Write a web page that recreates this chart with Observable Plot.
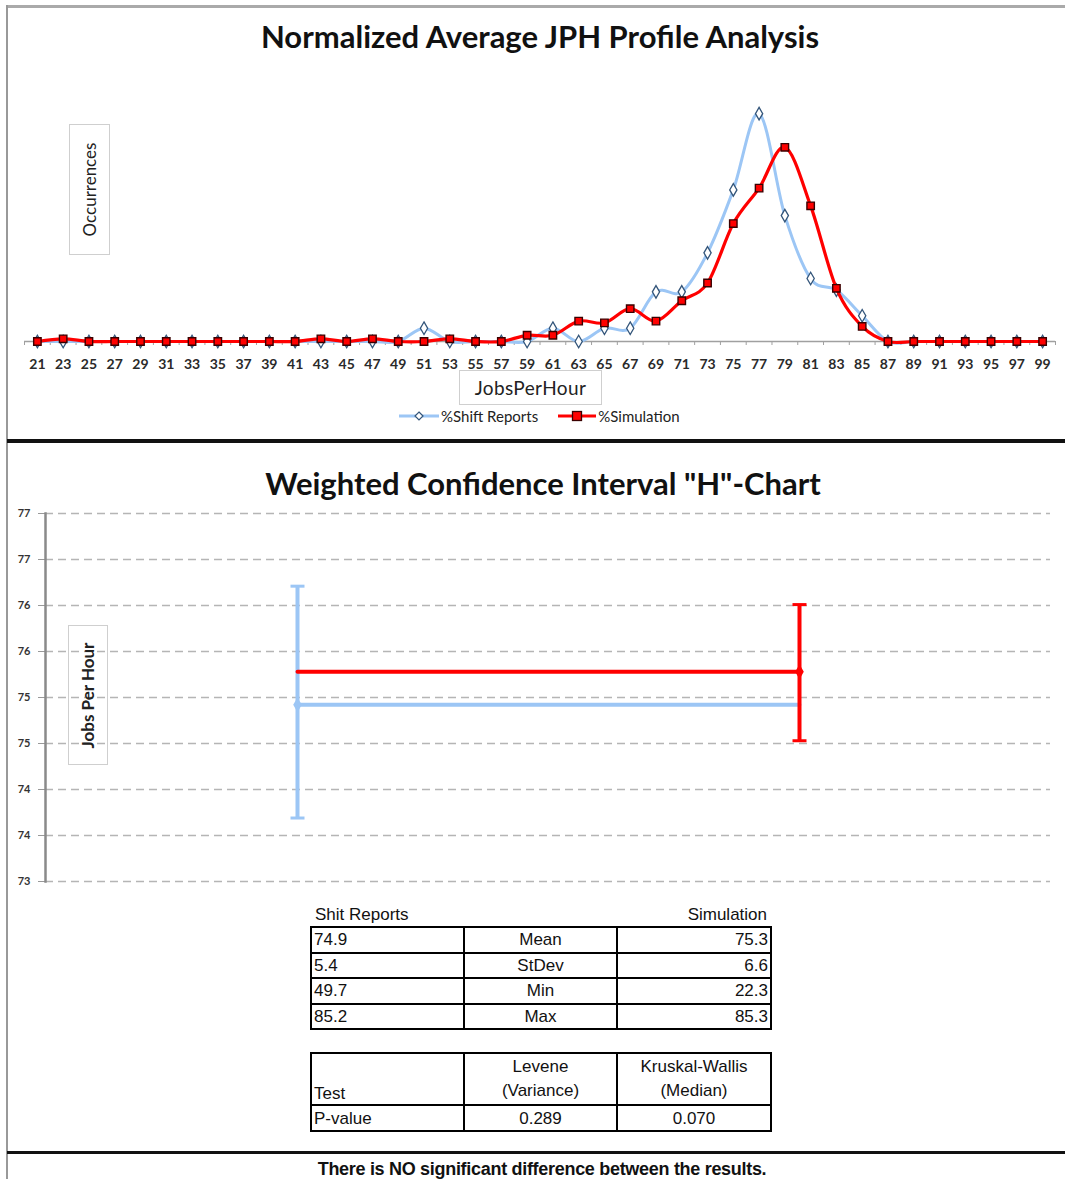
<!DOCTYPE html>
<html><head><meta charset="utf-8">
<script src="https://cdn.jsdelivr.net/npm/d3@7"></script>
<script src="https://cdn.jsdelivr.net/npm/@observablehq/plot@0.6"></script>
<style>
body{margin:0;background:#fff;}
#page{position:relative;width:1065px;height:1179px;overflow:hidden;font-family:Lato,"Liberation Sans",sans-serif;color:#111;background:#fff;}
.abs{position:absolute;}
.title{font-family:Lato,sans-serif;font-weight:700;font-size:31px;color:#111;text-align:center;white-space:nowrap;}
.vbox{position:absolute;border:1.5px solid #cfcfcf;box-sizing:border-box;display:flex;align-items:center;justify-content:center;}
.vbox span{transform:rotate(-90deg);white-space:nowrap;font-family:Lato,sans-serif;}
table.st{position:absolute;border-collapse:collapse;font-family:"Liberation Sans",Arial,sans-serif;font-size:17px;color:#111;table-layout:fixed;}
table.st td{border:2px solid #000;padding:0 2px;line-height:19px;overflow:hidden;white-space:nowrap;}
.hdr{position:absolute;font-family:"Liberation Sans",Arial,sans-serif;font-size:17px;color:#111;white-space:nowrap;}
.leg{position:absolute;display:flex;align-items:center;font-family:Lato,sans-serif;font-size:15px;color:#222;}
</style></head><body><div id="page"></div>
<script>
// ---------- data ----------
const jph = [21,23,25,27,29,31,33,35,37,39,41,43,45,47,49,51,53,55,57,59,61,63,65,67,69,71,73,75,77,79,81,83,85,87,89,91,93,95,97,99];
const shiftReports = [0,0,0,0,0,0,0,0,0,0,0,0,0,0,0,1.5,0,0,0,0,1.5,0,1.5,1.5,5.6,5.6,10.0,17.1,25.7,14.2,7.1,5.8,2.9,0,0,0,0,0,0,0];
const simulation   = [0,0.3,0,0,0,0,0,0,0,0,0,0.3,0,0.3,0,0,0.3,0,0,0.7,0.7,2.3,2.1,3.7,2.3,4.6,6.6,13.3,17.3,21.9,15.3,6.0,1.7,0,0,0,0,0,0,0];

const groups = ["Shift Reports", "Simulation"];
const ciMean = [74.92, 75.28];
const ciLow  = [73.69, 74.53];
const ciHigh = [76.21, 76.01];
const yTicksH = [73, 73.5, 74, 74.5, 75, 75.5, 76, 76.5, 77];

const statNames  = ["Mean", "StDev", "Min", "Max"];
const shiftStats = ["74.9", "5.4", "49.7", "85.2"];
const simStats   = ["75.3", "6.6", "22.3", "85.3"];
const testNames  = ["Levene<br>(Variance)", "Kruskal-Wallis<br>(Median)"];
const pValues    = ["0.289", "0.070"];

const BLUE = "#9CC6F5", RED = "#FF0000";
const page = document.getElementById("page");
function add(html){ page.insertAdjacentHTML("beforeend", html); }

// ---------- frame lines ----------
add(`<div class="abs" style="left:7px;top:5px;width:1058px;height:3px;background:#aaa"></div>`);
add(`<div class="abs" style="left:6px;top:5px;width:2px;height:1174px;background:#999"></div>`);
add(`<div class="abs" style="left:7px;top:439px;width:1058px;height:4px;background:#111"></div>`);
add(`<div class="abs" style="left:7px;top:1151px;width:1058px;height:3px;background:#111"></div>`);

// ---------- top chart ----------
const top1 = jph.map((x,i)=>({x, y: shiftReports[i]}));
const top2 = jph.map((x,i)=>({x, y: simulation[i]}));
const evenTicks = d3.range(20, 101, 2);
const chart1 = Plot.plot({
  width: 1065, height: 440,
  marginLeft: 24, marginRight: 10, marginTop: 75, marginBottom: 99,
  x: {type: "linear", domain: [20, 100], label: null},
  y: {domain: [0, 30], axis: null, label: null},
  style: {background: "transparent", overflow: "visible"},
  marks: [
    Plot.ruleY([0], {stroke: "#a0a0a0", strokeWidth: 1.5}),
    Plot.axisX(evenTicks, {tickSize: 4, tickFormat: () => "", stroke: "#a0a0a0", label: null}),
    Plot.axisX(jph, {tickSize: 0, tickPadding: 18, tickFormat: d => String(d), fontSize: 14, fontWeight: "bold", fill: "#2a2a2a", fontFamily: "Lato", label: null}),
    Plot.line(top1, {x: "x", y: "y", stroke: BLUE, strokeWidth: 3, curve: "cardinal"}),
    Plot.dot(top1, {x: "x", y: "y", symbol: "diamond", r: 3.8, fill: "white", stroke: "#33557a", strokeWidth: 1.3}),
    Plot.line(top2, {x: "x", y: "y", stroke: RED, strokeWidth: 3.2, curve: "cardinal"}),
    Plot.dot(top2, {x: "x", y: "y", symbol: "square", r: 4.2, fill: RED, stroke: "#3a0000", strokeWidth: 1.4})
  ]
});
chart1.style.position = "absolute"; chart1.style.left = "0px"; chart1.style.top = "0px";
page.appendChild(chart1);

add(`<div class="abs title" style="left:0;width:1080px;top:17px;">Normalized Average JPH Profile Analysis</div>`);
add(`<div class="vbox" style="left:69px;top:124px;width:41px;height:131px;"><span style="font-size:17px;color:#222">Occurrences</span></div>`);
add(`<div class="vbox" style="left:459px;top:370px;width:143px;height:35px;"><span style="transform:none;font-size:19px;letter-spacing:0.4px;color:#222">JobsPerHour</span></div>`);
// legend
add(`<div class="leg" style="left:399px;top:407px;height:18px;">
  <svg width="40" height="18"><line x1="0" y1="9" x2="40" y2="9" stroke="${BLUE}" stroke-width="3"/><path d="M20 5 L24 9 L20 13 L16 9 Z" fill="white" stroke="#33557a" stroke-width="1.2"/></svg>
  <span style="margin-left:2px">%Shift Reports</span>
  <svg width="38" height="18" style="margin-left:20px"><line x1="0" y1="9" x2="38" y2="9" stroke="${RED}" stroke-width="3.2"/><rect x="14.5" y="4.5" width="9" height="9" fill="${RED}" stroke="#3a0000" stroke-width="1.3"/></svg>
  <span style="margin-left:2px">%Simulation</span></div>`);

// ---------- bottom "H" chart ----------
const ci = groups.map((g,i)=>({g, mean: ciMean[i], lo: ciLow[i], hi: ciHigh[i]}));
const meanLine = (i) => groups.map(h => ({x: h, y: ciMean[i]}));
const caps = (i) => [{x: groups[i], y: ciLow[i]}, {x: groups[i], y: ciHigh[i]}];
const capSymbol = {draw(ctx, size){ const r = Math.sqrt(size / Math.PI); ctx.moveTo(-r, 0); ctx.lineTo(r, 0); }};
const chart2 = Plot.plot({
  width: 1065, height: 400,
  marginLeft: 45, marginRight: 15, marginTop: 13, marginBottom: 19,
  x: {type: "point", domain: groups, padding: 0.5, axis: null, label: null},
  y: {domain: [73, 77], axis: null, label: null},
  style: {background: "transparent", overflow: "visible"},
  marks: [
    Plot.gridY(yTicksH, {stroke: "#b5b5b5", strokeOpacity: 1, strokeWidth: 1.3, strokeDasharray: "8,5"}),
    Plot.axisY(yTicksH, {tickSize: 7, tickPadding: 8, tickFormat: d => String(Math.round(d)), fontSize: 11, fontWeight: "bold", fill: "#333", stroke: "#999", fontFamily: "Lato", label: null}),
    Plot.frame({anchor: "left", stroke: "#8a8a8a", strokeWidth: 2.5}),
    Plot.line(meanLine(0), {x: "x", y: "y", stroke: BLUE, strokeWidth: 4}),
    Plot.ruleX([ci[0]], {x: "g", y1: "lo", y2: "hi", stroke: BLUE, strokeWidth: 4}),
    Plot.dot(caps(0), {x: "x", y: "y", symbol: capSymbol, r: 7, stroke: BLUE, strokeWidth: 3}),
    Plot.dot([ci[0]], {x: "g", y: "mean", symbol: "diamond", r: 4.5, fill: BLUE}),
    Plot.line(meanLine(1), {x: "x", y: "y", stroke: RED, strokeWidth: 4}),
    Plot.ruleX([ci[1]], {x: "g", y1: "lo", y2: "hi", stroke: RED, strokeWidth: 4}),
    Plot.dot(caps(1), {x: "x", y: "y", symbol: capSymbol, r: 7, stroke: RED, strokeWidth: 3}),
    Plot.dot([ci[1]], {x: "g", y: "mean", symbol: "diamond", r: 4.5, fill: RED})
  ]
});
chart2.style.position = "absolute"; chart2.style.left = "0px"; chart2.style.top = "500px";
page.appendChild(chart2);

add(`<div class="abs title" style="left:0;width:1086px;top:464px;">Weighted Confidence Interval "H"-Chart</div>`);
add(`<div class="vbox" style="left:68px;top:625px;width:40px;height:140px;"><span style="font-size:17px;font-weight:700;color:#222">Jobs Per Hour</span></div>`);

// ---------- tables ----------
add(`<div class="hdr" style="left:315px;top:905px;">Shit Reports</div>`);
add(`<div class="hdr" style="left:617px;width:150px;text-align:right;top:905px;">Simulation</div>`);
let rows = statNames.map((n,i)=>`<tr style="height:25.5px"><td style="text-align:left">${shiftStats[i]}</td><td style="text-align:center">${n}</td><td style="text-align:right">${simStats[i]}</td></tr>`).join("");
add(`<table class="st" style="left:310px;top:926px;width:460px;"><colgroup><col style="width:153px"><col style="width:153px"><col style="width:154px"></colgroup>${rows}</table>`);
add(`<table class="st" style="left:310px;top:1052px;width:460px;"><colgroup><col style="width:153px"><col style="width:153px"><col style="width:154px"></colgroup>
<tr style="height:52px"><td style="text-align:left;vertical-align:bottom;line-height:20px">Test</td>${testNames.map(t=>`<td style="text-align:center;line-height:24px">${t}</td>`).join("")}</tr>
<tr style="height:26px"><td style="text-align:left">P-value</td>${pValues.map(p=>`<td style="text-align:center">${p}</td>`).join("")}</tr></table>`);

add(`<div class="abs" style="left:0;width:1084px;top:1159px;text-align:center;font-family:'Liberation Sans',Arial,sans-serif;font-weight:700;font-size:18px;letter-spacing:-0.3px;color:#111;">There is NO significant difference between the results.</div>`);
</script></body></html>
